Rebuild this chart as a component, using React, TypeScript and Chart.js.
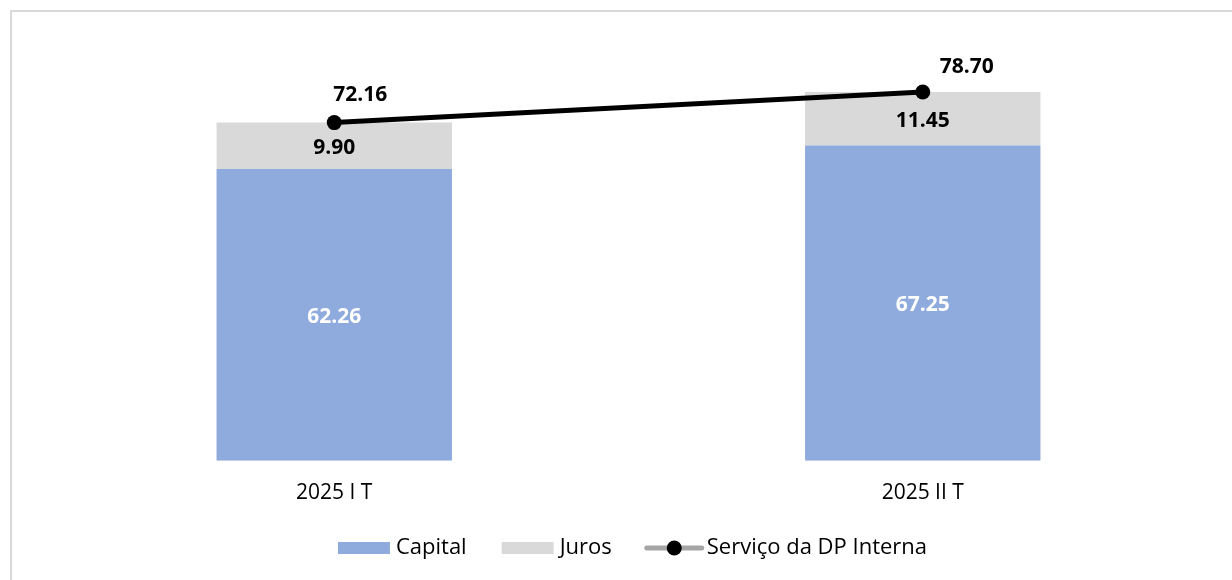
import React, { useEffect, useRef } from "react";
import { Chart, registerables } from "chart.js";

Chart.register(...registerables);

// ---- data ----
const categories = ["2025 I T", "2025 II T"];
const capitalValues = [62.26, 67.25];
const jurosValues = [9.9, 11.45];
const servicoValues = [72.16, 78.7];
const seriesNames = ["Capital", "Juros", "Serviço da DP Interna"];

// ---- style ----
const FONT = "'Open Sans', sans-serif";
const COL_CAPITAL = "#8FAADC";
const COL_JUROS = "#D9D9D9";
const COL_LINE = "#000000";
const COL_LEGEND_LINE = "#A6A6A6";
const COL_BORDER = "#D9D9D9";
const LINE_LABEL_OFFSETS = [
  { dx: 26, dy: -28 },
  { dx: 44, dy: -25 },
];

const fmt = (v: number) => v.toFixed(2);

const labelsPlugin = {
  id: "valueLabels",
  afterDatasetsDraw(chart: any) {
    const ctx = chart.ctx;
    ctx.save();
    ctx.font = `bold 21px ${FONT}`;
    ctx.textAlign = "center";
    ctx.textBaseline = "middle";
    [1, 2].forEach((di) => {
      const meta = chart.getDatasetMeta(di);
      const ds = chart.data.datasets[di];
      meta.data.forEach((el: any, i: number) => {
        const p = el.getProps(["x", "y", "base"], true);
        ctx.fillStyle = di === 1 ? "#FFFFFF" : "#000000";
        ctx.fillText(fmt(ds.data[i]), p.x, (p.y + p.base) / 2 + 2);
      });
    });
    const lm = chart.getDatasetMeta(0);
    const lds = chart.data.datasets[0];
    lm.data.forEach((el: any, i: number) => {
      const p = el.getProps(["x", "y"], true);
      const off = LINE_LABEL_OFFSETS[i] || { dx: 0, dy: -26 };
      ctx.fillStyle = "#000000";
      ctx.fillText(fmt(lds.data[i]), p.x + off.dx, p.y + off.dy);
    });
    ctx.restore();
  },
};

const legendPlugin = {
  id: "customLegend",
  afterDraw(chart: any) {
    const ctx = chart.ctx;
    const ca = chart.chartArea;
    ctx.save();
    ctx.font = `22px ${FONT}`;
    ctx.textBaseline = "middle";
    ctx.textAlign = "left";
    const boxW = 52;
    const boxH = 12;
    const gapText = 6;
    const gapItem = 35;
    const lineW = 55;
    const y = 548;
    const w0 = ctx.measureText(seriesNames[0]).width;
    const w1 = ctx.measureText(seriesNames[1]).width;
    const w2 = ctx.measureText(seriesNames[2]).width;
    const total = boxW + gapText + w0 + gapItem + boxW + gapText + w1 + gapItem + lineW + 5 + w2;
    let x = (ca.left + ca.right) / 2 - total / 2 + 4;
    ctx.fillStyle = COL_CAPITAL;
    ctx.fillRect(x, y - boxH / 2, boxW, boxH);
    x += boxW + gapText;
    ctx.fillStyle = "#000";
    ctx.fillText(seriesNames[0], x, y);
    x += w0 + gapItem;
    ctx.fillStyle = COL_JUROS;
    ctx.fillRect(x, y - boxH / 2, boxW, boxH);
    x += boxW + gapText;
    ctx.fillStyle = "#000";
    ctx.fillText(seriesNames[1], x, y);
    x += w1 + gapItem;
    ctx.strokeStyle = COL_LEGEND_LINE;
    ctx.lineWidth = 5;
    ctx.lineCap = "round";
    ctx.beginPath();
    ctx.moveTo(x, y);
    ctx.lineTo(x + lineW, y);
    ctx.stroke();
    ctx.fillStyle = "#000";
    ctx.beginPath();
    ctx.arc(x + lineW / 2, y, 7.5, 0, Math.PI * 2);
    ctx.fill();
    x += lineW + 5;
    ctx.fillText(seriesNames[2], x, y);
    ctx.restore();
  },
};

export default function App() {
  const ref = useRef<HTMLCanvasElement | null>(null);
  useEffect(() => {
    if (!ref.current) return;
    const chart = new Chart(ref.current, {
      type: "bar",
      data: {
        labels: categories,
        datasets: [
          {
            type: "line",
            label: seriesNames[2],
            data: servicoValues,
            borderColor: COL_LINE,
            backgroundColor: COL_LINE,
            borderWidth: 5,
            pointRadius: 7.5,
            pointBackgroundColor: COL_LINE,
            pointBorderWidth: 0,
            stack: "line",
            order: 0,
          } as any,
          {
            type: "bar",
            label: seriesNames[0],
            data: capitalValues,
            backgroundColor: COL_CAPITAL,
            stack: "bars",
            order: 1,
            categoryPercentage: 1,
            barPercentage: 0.4,
          },
          {
            type: "bar",
            label: seriesNames[1],
            data: jurosValues,
            backgroundColor: COL_JUROS,
            stack: "bars",
            order: 2,
            categoryPercentage: 1,
            barPercentage: 0.4,
          },
        ],
      },
      options: {
        responsive: false,
        animation: false,
        layout: {
          padding: { top: 39, left: 40, right: 15, bottom: 54 },
          autoPadding: false,
        } as any,
        plugins: {
          legend: { display: false },
          tooltip: { enabled: false },
          title: { display: false },
        },
        scales: {
          x: {
            stacked: true,
            grid: { display: false, drawTicks: false },
            border: { display: false },
            ticks: {
              padding: 20,
              color: "#000",
              font: { family: FONT, size: 21 },
            },
          },
          y: {
            stacked: true,
            display: false,
            min: 0,
            max: 90,
          },
        },
      },
      plugins: [labelsPlugin, legendPlugin],
    });
    return () => chart.destroy();
  }, []);

  return (
    <div style={{ position: "fixed", left: 0, top: 0, width: 1232, height: 580, background: "#fff", overflow: "hidden" }}>
      <div
        style={{
          position: "absolute",
          left: 10,
          top: 10,
          width: 1300,
          height: 700,
          border: `2px solid ${COL_BORDER}`,
          boxSizing: "border-box",
        }}
      />
      <canvas ref={ref} width={1232} height={580} style={{ position: "absolute", left: 0, top: 0 }} />
    </div>
  );
}
